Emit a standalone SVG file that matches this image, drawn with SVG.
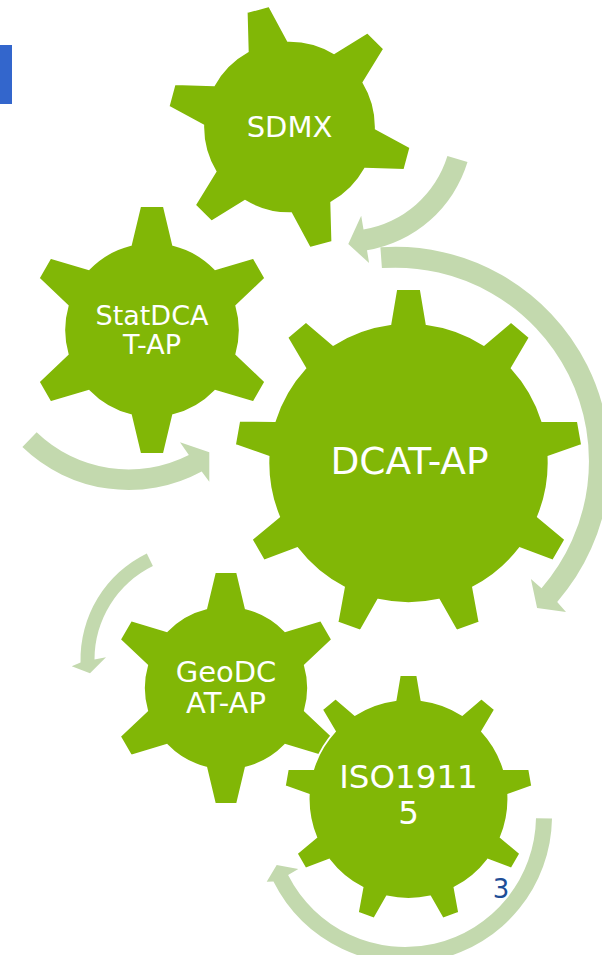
<svg xmlns="http://www.w3.org/2000/svg" xmlns:xlink="http://www.w3.org/1999/xlink" width="602" height="955" viewBox="0 0 602 955">
  <style>
    .gear { fill: #81B706; stroke: #FFFFFF; stroke-width: 1.8; vector-effect: non-scaling-stroke; }
    .lbl { font-family: "DejaVu Sans", Verdana, sans-serif; fill: #FFFFFF; text-anchor: middle; }
    .arrow { fill: #C3D9AE; stroke: none; }
    .num { font-family: "DejaVu Sans", Verdana, sans-serif; fill: #1F4E96; text-anchor: middle; font-size: 26px; }
  </style>
  <defs>
    <path id="gear6" class="gear" d="M -17,-68.63 L -9.5,-100 L 9.5,-100 L 17,-68.63 A 70.7 70.7 0 0 1 50.93,-49.04 L 81.85,-58.23 L 91.35,-41.77 L 67.93,-19.59 A 70.7 70.7 0 0 1 67.93,19.59 L 91.35,41.77 L 81.85,58.23 L 50.93,49.04 A 70.7 70.7 0 0 1 17,68.63 L 9.5,100 L -9.5,100 L -17,68.63 A 70.7 70.7 0 0 1 -50.93,49.04 L -81.85,58.23 L -91.35,41.77 L -67.93,19.59 A 70.7 70.7 0 0 1 -67.93,-19.59 L -91.35,-41.77 L -81.85,-58.23 L -50.93,-49.04 A 70.7 70.7 0 0 1 -17,-68.63 Z"/>
    <path id="gear9" class="gear" d="M -10.4,-79.83 L -7,-100 L 7,-100 L 10.4,-79.83 A 80.5 80.5 0 0 1 43.35,-67.84 L 58.92,-81.10 L 69.64,-72.10 L 59.28,-54.46 A 80.5 80.5 0 0 1 76.81,-24.10 L 97.26,-24.25 L 99.70,-10.47 L 80.42,-3.62 A 80.5 80.5 0 0 1 74.33,30.91 L 90.1,43.94 L 83.1,56.06 L 63.93,48.93 A 80.5 80.5 0 0 1 37.07,71.46 L 40.78,91.58 L 27.62,96.36 L 17.53,78.58 A 80.5 80.5 0 0 1 -17.53,78.58 L -27.62,96.36 L -40.78,91.58 L -37.07,71.46 A 80.5 80.5 0 0 1 -63.93,48.93 L -83.1,56.06 L -90.1,43.94 L -74.33,30.91 A 80.5 80.5 0 0 1 -80.42,-3.62 L -99.70,-10.47 L -97.26,-24.25 L -76.81,-24.10 A 80.5 80.5 0 0 1 -59.28,-54.46 L -69.64,-72.10 L -58.92,-81.10 L -43.35,-67.84 A 80.5 80.5 0 0 1 -10.4,-79.83 Z"/>
  </defs>

  <rect x="0" y="45" width="12" height="59" fill="#3366CC"/>

  <g id="sdmx">
    <use xlink:href="#gear6" href="#gear6" transform="translate(289.5,127) rotate(-15) scale(1.22)"/>
    <text class="lbl" x="289.5" y="137" font-size="29">SDMX</text>
  </g>

  <g id="statdcat-ap">
    <use xlink:href="#gear6" href="#gear6" transform="translate(152,330) scale(1.24)"/>
    <text class="lbl" font-size="27"><tspan x="152" y="325">StatDCA</tspan><tspan x="152" y="354">T-AP</tspan></text>
  </g>

  <g id="dcat-ap">
    <use xlink:href="#gear9" href="#gear9" transform="translate(408.5,463) scale(1.74)"/>
    <text class="lbl" x="409.5" y="473.5" font-size="37.5">DCAT-AP</text>
  </g>

  <g id="geodcat-ap">
    <use xlink:href="#gear6" href="#gear6" transform="translate(226,688) scale(1.16)"/>
    <text class="lbl" font-size="29"><tspan x="226" y="681.7">GeoDC</tspan><tspan x="226" y="713.3">AT-AP</tspan></text>
  </g>

  <g id="iso19115">
    <use xlink:href="#gear9" href="#gear9" transform="translate(408.5,799) scale(1.24)"/>
    <text class="lbl" font-size="32.5"><tspan x="408.5" y="788">ISO1911</tspan><tspan x="408.5" y="824">5</tspan></text>
  </g>

  <g id="connectors">
    <path class="arrow" d="M 447.4,156.0 A 106 106 0 0 1 363.5,229.5 L 361.2,215.7 L 348.3,244 L 369.1,263.1 L 367.0,250.3 A 127 127 0 0 0 467.5,162.1 Z"/>
    <path class="arrow" d="M 381.9,268.1 A 193.6 193.6 0 0 1 541.5,588.2 L 530.9,579.0 L 537.1,607.9 L 566,612 L 557.2,601.9 A 214.4 214.4 0 0 0 380.4,247.3 Z"/>
    <path class="arrow" d="M 22.4,447.05 A 153 153 0 0 0 201.7,471.5 L 209.3,481.7 L 209.3,452.3 L 180,442.2 L 188.85,455.06 A 132.5 132.5 0 0 1 36.65,432.3 Z"/>
    <path class="arrow" d="M 146.8,553.4 A 118 118 0 0 0 80.54,662.6 L 71.7,666.15 L 90,673.3 L 106,657.3 L 94.5,659.5 A 104 104 0 0 1 152.9,566.0 Z"/>
    <path class="arrow" d="M 536.0,818.3 A 131 131 0 0 1 288.1,875.1 L 298.3,869 L 276.7,865 L 266.7,881.7 L 273.45,881.6 A 147 147 0 0 0 552.0,818.6 Z"/>
  </g>

  <text class="num" x="501" y="897.7">3</text>
</svg>
